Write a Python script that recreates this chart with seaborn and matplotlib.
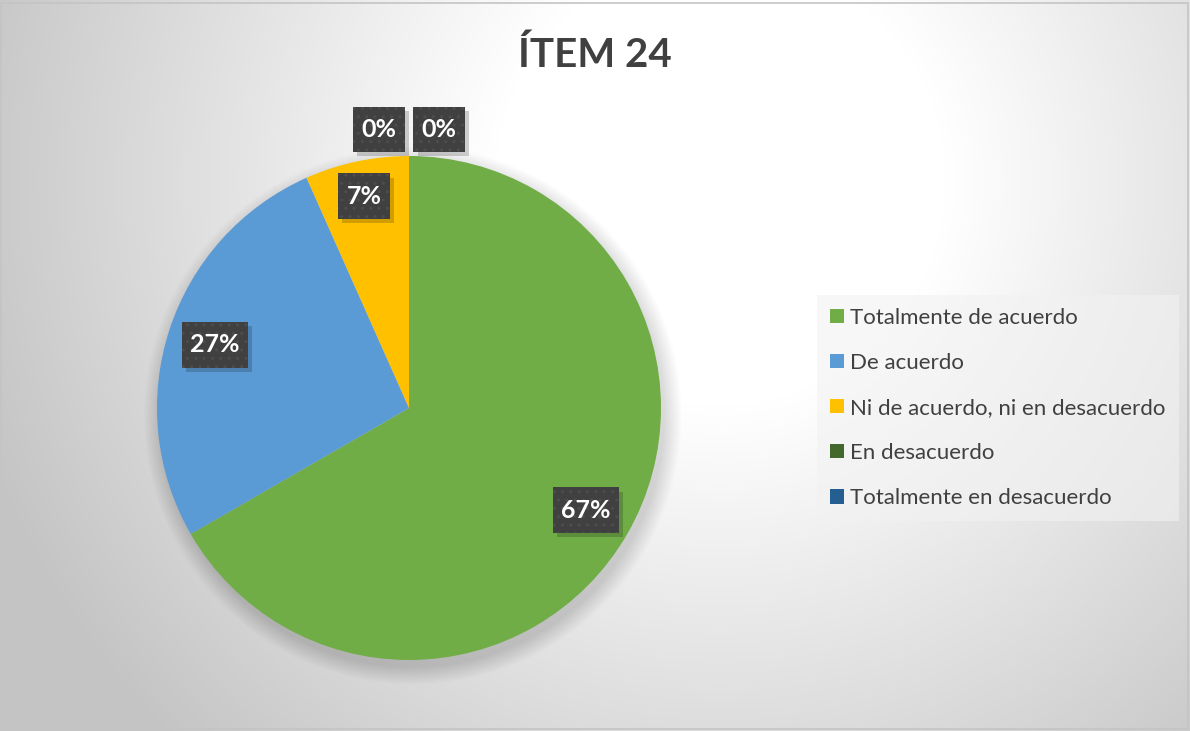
import numpy as np
import matplotlib
matplotlib.use("Agg")
import matplotlib.pyplot as plt
import matplotlib.patheffects as pe
import seaborn as sns
from matplotlib.patches import Rectangle, Circle

categories = ["Totalmente de acuerdo", "De acuerdo", "Ni de acuerdo, ni en desacuerdo",
              "En desacuerdo", "Totalmente en desacuerdo"]
values = [20, 8, 2, 0, 0]
colors = ["#70AD47", "#5B9BD5", "#FFC000", "#43682B", "#255E91"]
title = "ÍTEM 24"

sns.set_theme(style="white")
plt.rcParams['font.family'] = ['Lato', 'DejaVu Sans']

W, H = 1190, 731
fig = plt.figure(figsize=(W / 100, H / 100), dpi=100)

# background radial gradient
bg = fig.add_axes([0, 0, 1, 1])
yy, xx = np.mgrid[0:H, 0:W]
d = np.hypot(xx - 720, yy - 180)
g = np.clip(255 - np.clip(d - 225, 0, None) * 0.105, 196, 255) / 255.0
bg.imshow(np.dstack([g, g, g]), extent=[0, W, H, 0], aspect='auto', zorder=0)
bg.set_xlim(0, W)
bg.set_ylim(H, 0)
bg.axis('off')
bg.add_patch(Rectangle((1, 3), W - 3, H - 5, fill=False, edgecolor="#c4c4c4", lw=1.2))

# pie axes
cx, cy, r = 409, 408, 252
lim = 1.3
size = 2 * lim * r
ax = fig.add_axes([(cx - size / 2) / W, (H - cy - size / 2) / H, size / W, size / H])

# soft shadow
for k in range(12):
    ax.add_patch(Circle((0.015, -0.03), 1.0 + 0.006 * k, color='black', alpha=0.012, lw=0, zorder=1))

wedges, _ = ax.pie(values, colors=colors, startangle=90, counterclock=False, radius=1,
                   wedgeprops=dict(linewidth=0), labels=None)
for w in wedges:
    w.set_zorder(2)
ax.set_xlim(-lim, lim)
ax.set_ylim(-lim, lim)
ax.set_aspect('equal')
ax.axis('off')

total = sum(values)
box = dict(boxstyle="square,pad=0.33", facecolor="#404040", edgecolor="#4d4d4d", hatch="..",
           linewidth=0, mutation_aspect=1.35)
angle = 90.0
zero_idx = 0
for v in values:
    span = 360.0 * v / total
    mid = np.deg2rad(angle - span / 2)
    pct = "{:.0f}%".format(100.0 * v / total)
    if v > 0:
        dist = 0.81 if span > 60 else 0.86
        x, y = dist * np.cos(mid), dist * np.sin(mid)
    else:
        x = (-0.12 if zero_idx == 0 else 0.12)
        y = 1.105
        zero_idx += 1
    t = ax.text(x, y, pct, ha='center', va='center', fontsize=18, fontweight='bold',
                color='white', bbox=box, zorder=5)
    t.get_bbox_patch().set_path_effects([
        pe.SimplePatchShadow(offset=(3, -3), shadow_rgbFace='black', alpha=0.18, hatch=None),
        pe.Normal()])
    angle -= span

fig.text(0.5, 1 - 55 / H, title, ha='center', va='center', fontsize=29, fontweight='bold', color='#404040')

leg = fig.legend(wedges, categories, loc='center left', bbox_to_anchor=(817 / W, 1 - 408 / H),
                 frameon=True, fontsize=16, labelcolor='#404040', handlelength=0.62, handleheight=0.62,
                 handletextpad=0.3, labelspacing=1.13, borderpad=0.58, borderaxespad=0, fancybox=False)
leg.get_frame().set_facecolor('#f2f2f2')
leg.get_frame().set_alpha(0.6)
leg.get_frame().set_linewidth(0)

fig.savefig("out.png", dpi=100)
